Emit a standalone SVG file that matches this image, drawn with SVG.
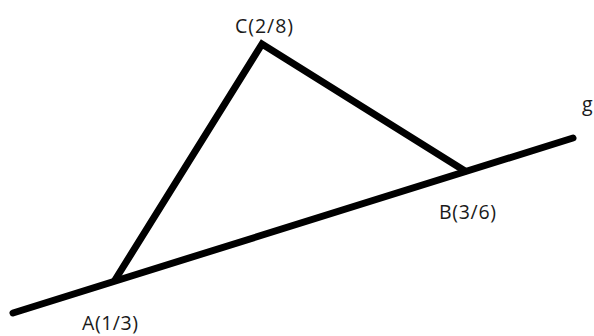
<svg xmlns="http://www.w3.org/2000/svg" width="594" height="336" viewBox="0 0 594 336">
  <style>
    .edge { fill: none; stroke: #000; stroke-width: 7; stroke-linecap: round; stroke-linejoin: miter; }
    .lbl { font-family: "Open Sans", "Liberation Sans", sans-serif; font-size: 19.5px; fill: #1a1a1a; }
  </style>
  <rect width="594" height="336" fill="#fff"/>
  <g id="connectors">
    <line id="line-g" class="edge" x1="13" y1="313" x2="573" y2="138"/>
    <polyline id="triangle" class="edge" points="115,280 262,44 465,171"/>
  </g>
  <g id="node-C"><text class="lbl" x="235" y="33" textLength="58" lengthAdjust="spacing">C(2/8)</text></g>
  <g id="node-B"><text class="lbl" x="439" y="219" textLength="57" lengthAdjust="spacing">B(3/6)</text></g>
  <g id="node-A"><text class="lbl" x="82" y="330" textLength="56" lengthAdjust="spacing">A(1/3)</text></g>
  <g id="label-g"><text class="lbl" x="582" y="111">g</text></g>
</svg>
